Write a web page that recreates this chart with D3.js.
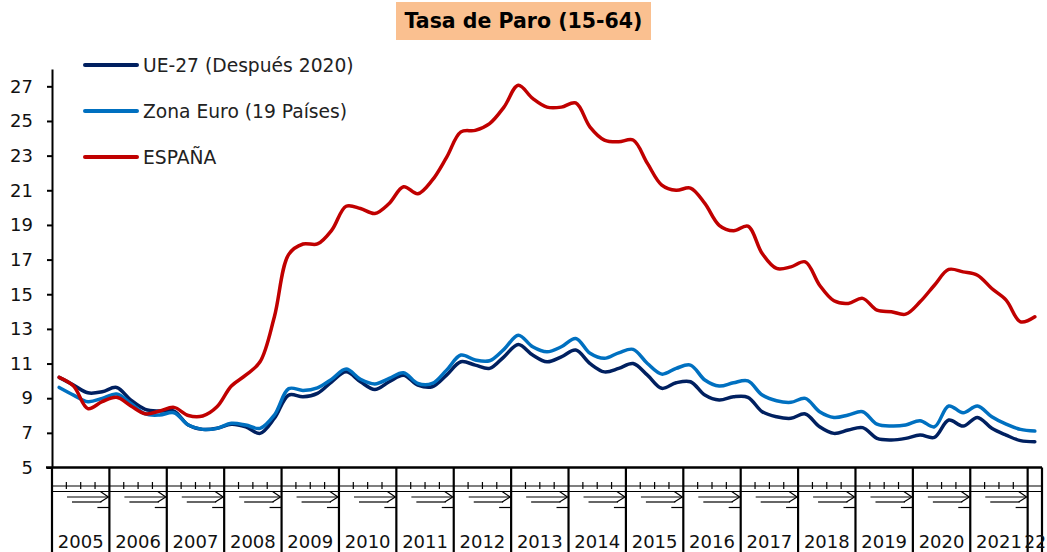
<!DOCTYPE html>
<html>
<head>
<meta charset="utf-8">
<script src="https://cdn.jsdelivr.net/npm/d3@7"></script>
<style>
  body { margin: 0; background: #fff; }
  svg { display: block; font-family: "DejaVu Sans", sans-serif; }
</style>
</head>
<body>
<div id="chart"></div>
<script>
// years on the category axis (2022 only has its first quarter)
var years = [2005, 2006, 2007, 2008, 2009, 2010, 2011, 2012, 2013, 2014, 2015, 2016, 2017, 2018, 2019, 2020, 2021, 2022];
var yearLabels = ["2005", "2006", "2007", "2008", "2009", "2010", "2011", "2012", "2013", "2014", "2015", "2016", "2017", "2018", "2019", "2020", "2021", "22"];
var yTicks = [5, 7, 9, 11, 13, 15, 17, 19, 21, 23, 25, 27];

var quarters = [];
years.forEach(function (yr) {
    var n = yr === 2022 ? 1 : 4;
    for (var q = 1; q <= n; q++) quarters.push(yr + "T" + q);
});

var ue27 = [10.2, 9.76, 9.31, 9.37, 9.62, 8.89, 8.36, 8.26, 8.26, 7.45, 7.2, 7.26, 7.5, 7.35, 6.97, 7.84, 9.18, 9.08, 9.28, 9.95,
    10.52, 9.95, 9.5, 9.95, 10.33, 9.76, 9.66, 10.33, 11.1, 10.91, 10.72, 11.39, 12.1, 11.49, 11.1, 11.39, 11.78, 11.0, 10.52, 10.72,
    11.0, 10.33, 9.57, 9.89, 9.95, 9.18, 8.89, 9.08, 9.05, 8.22, 7.93, 7.84, 8.09, 7.35, 6.97, 7.16, 7.3, 6.68, 6.59, 6.68,
    6.87, 6.74, 7.74, 7.39, 7.89, 7.26, 6.87, 6.55, 6.49];

var zonaEuro = [9.62, 9.18, 8.8, 8.99, 9.24, 8.7, 8.09, 8.03, 8.16, 7.45, 7.2, 7.26, 7.55, 7.45, 7.26, 8.03, 9.55, 9.45, 9.6, 10.1,
    10.68, 10.09, 9.82, 10.14, 10.47, 9.85, 9.85, 10.62, 11.49, 11.2, 11.16, 11.82, 12.64, 11.97, 11.68, 11.97, 12.45, 11.59, 11.3, 11.62,
    11.82, 11.0, 10.39, 10.72, 10.91, 10.05, 9.7, 9.89, 10.0, 9.18, 8.85, 8.76, 8.99, 8.22, 7.89, 8.03, 8.22, 7.5, 7.39, 7.45,
    7.7, 7.35, 8.55, 8.16, 8.55, 7.93, 7.5, 7.2, 7.1];

var espana = [10.2, 9.7, 8.4, 8.8, 9.05, 8.55, 8.1, 8.26, 8.47, 8.0, 7.97, 8.5, 9.7, 10.33, 11.1, 13.7, 17.3, 17.9, 17.9, 18.7,
    20.08, 19.95, 19.66, 20.24, 21.2, 20.8, 21.58, 22.9, 24.37, 24.46, 24.85, 25.8, 27.06, 26.3, 25.8, 25.8, 26.04, 24.65, 23.9, 23.8,
    23.9, 22.55, 21.3, 21.0, 21.13, 20.24, 18.98, 18.66, 18.93, 17.35, 16.49, 16.58, 16.87, 15.52, 14.62, 14.47, 14.76, 14.08, 13.99, 13.85,
    14.56, 15.52, 16.43, 16.29, 16.1, 15.33, 14.66, 13.41, 13.7];

var series = [
    { name: "UE-27 (Después 2020)", values: ue27, color: "#002060" },
    { name: "Zona Euro (19 Países)", values: zonaEuro, color: "#0070C0" },
    { name: "ESPAÑA", values: espana, color: "#C00000" }
];

var W = 1047, H = 552;
var plot = { left: 52, right: 1042, top: 69, bottom: 467.5 };

var svg = d3.select("#chart")
    .append("svg")
    .attr("width", W)
    .attr("height", H);

var x = d3.scaleBand()
    .domain(quarters)
    .range([plot.left, plot.right])
    .padding(0);

var y = d3.scaleLinear()
    .domain([5, 28])
    .range([plot.bottom, plot.top]);

var cx = function (i) { return x(quarters[i]) + x.bandwidth() / 2; };

// title
var title = svg.append("g");
title.append("rect")
    .attr("x", 396).attr("y", 2)
    .attr("width", 255).attr("height", 38)
    .attr("fill", "#FAC090");
title.append("text")
    .attr("x", 523.5).attr("y", 21)
    .attr("text-anchor", "middle")
    .attr("dominant-baseline", "central")
    .attr("font-weight", "bold")
    .attr("font-size", 20.5)
    .text("Tasa de Paro (15-64)");

// y axis
var yAxis = svg.append("g")
    .attr("transform", "translate(" + plot.left + ",0)")
    .call(d3.axisLeft(y).tickValues(yTicks).tickSize(5).tickPadding(14).tickSizeOuter(0));
yAxis.select(".domain").attr("stroke", "#000").attr("stroke-width", 2);
yAxis.selectAll(".tick line").attr("stroke", "#000").attr("stroke-width", 2);
yAxis.selectAll(".tick text")
    .attr("font-family", "DejaVu Sans, sans-serif")
    .attr("font-size", 18)
    .attr("fill", "#111");

// lines
var line = d3.line()
    .x(function (d, i) { return cx(i); })
    .y(function (d) { return y(d); })
    .curve(d3.curveCatmullRom.alpha(0.5));

svg.append("g")
    .selectAll("path")
    .data(series)
    .enter()
    .append("path")
    .attr("d", function (d) { return line(d.values); })
    .attr("fill", "none")
    .attr("stroke", function (d) { return d.color; })
    .attr("stroke-width", 3.5)
    .attr("stroke-linejoin", "round")
    .attr("stroke-linecap", "round");

// category axis (multi level)
var cat = svg.append("g").attr("stroke", "#000");
cat.append("line")
    .attr("x1", plot.left - 6).attr("x2", plot.right)
    .attr("y1", plot.bottom).attr("y2", plot.bottom)
    .attr("stroke-width", 2.5);
cat.append("line")
    .attr("x1", plot.left).attr("x2", plot.right)
    .attr("y1", 486).attr("y2", 486)
    .attr("stroke-width", 1.2);
cat.append("line")
    .attr("x1", plot.left).attr("x2", plot.right)
    .attr("y1", 491.5).attr("y2", 491.5)
    .attr("stroke-width", 1.2);

// quarter ticks
quarters.forEach(function (q, i) {
    if (q.slice(-2) === "T1") return;
    var xx = x(q);
    cat.append("line")
        .attr("x1", xx).attr("x2", xx)
        .attr("y1", 482).attr("y2", 489)
        .attr("stroke-width", 1.2);
});

// year boundaries and squeezed quarter label marks
var bounds = years.map(function (yr) { return x(yr + "T1"); });
bounds.push(plot.right);

years.forEach(function (yr, i) {
    var x0 = bounds[i], x1 = bounds[i + 1];
    if (x1 - x0 > 30) {
        cat.append("line").attr("x1", x0 + 15).attr("x2", x1 - 2).attr("y1", 497).attr("y2", 497).attr("stroke-width", 1.2);
        cat.append("line").attr("x1", x0 + 20).attr("x2", x1 - 8).attr("y1", 502).attr("y2", 502).attr("stroke-width", 1.2);
        cat.append("polyline")
            .attr("points", [[x1 - 9, 491.5], [x1 - 1, 497], [x1 - 9, 502]].join(" "))
            .attr("fill", "none").attr("stroke-width", 1.2);
        cat.append("line").attr("x1", x1 - 12).attr("x2", x1).attr("y1", 507.5).attr("y2", 507.5).attr("stroke-width", 1.2);
    }
});

bounds.forEach(function (b) {
    cat.append("line")
        .attr("x1", b).attr("x2", b)
        .attr("y1", plot.bottom).attr("y2", H)
        .attr("stroke-width", 2.2);
});

var last = yearLabels.length - 1;
svg.append("g")
    .selectAll("text")
    .data(yearLabels)
    .enter()
    .append("text")
    .attr("x", function (d, i) {
        return i === last ? W - 1 : (bounds[i] + bounds[i + 1]) / 2;
    })
    .attr("y", 548)
    .attr("text-anchor", function (d, i) { return i === last ? "end" : "middle"; })
    .attr("font-size", function (d, i) { return i === last ? 17 : 18; })
    .attr("fill", "#111")
    .text(function (d) { return d; });

// legend
var legend = svg.append("g")
    .selectAll("g")
    .data(series)
    .enter()
    .append("g")
    .attr("transform", function (d, i) { return "translate(85," + (65 + i * 46) + ")"; });
legend.append("line")
    .attr("x1", 0).attr("x2", 52)
    .attr("stroke", function (d) { return d.color; })
    .attr("stroke-width", 4)
    .attr("stroke-linecap", "round");
legend.append("text")
    .attr("x", 58)
    .attr("dominant-baseline", "central")
    .attr("font-size", 18.7)
    .attr("fill", "#222")
    .text(function (d) { return d.name; });
</script>
</body>
</html>
